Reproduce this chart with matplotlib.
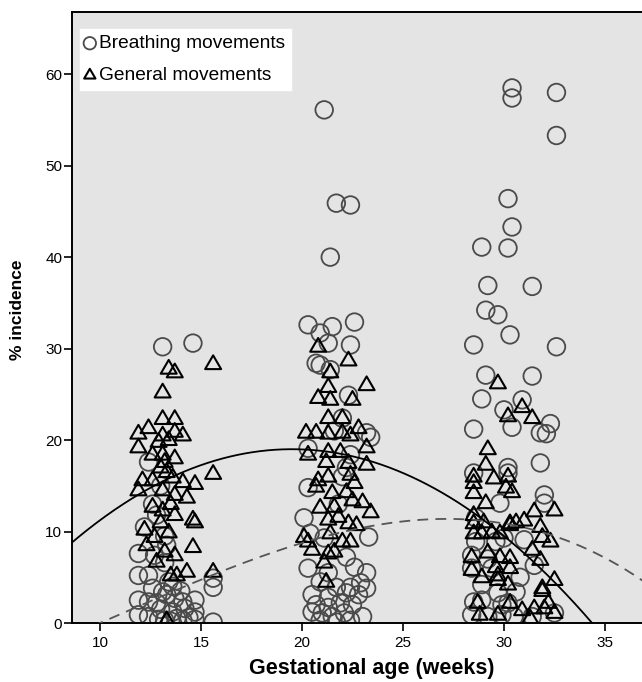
import numpy as np
import matplotlib
matplotlib.use("Agg")
import matplotlib.pyplot as plt
from matplotlib.path import Path

plt.rcParams['font.family'] = ['Liberation Sans', 'DejaVu Sans']

# ---------------- data ----------------
breathing_age = [
    # ~13 weeks
    13.1, 14.6, 12.4, 13.0, 12.6, 11.9, 12.7, 13.2, 11.9, 12.4, 13.1, 11.9, 12.4, 12.8,
    13.3, 13.7, 14.1, 14.7, 15.6, 15.6, 11.9, 12.4, 12.9, 13.2, 13.5, 13.8, 14.1, 14.4,
    14.7, 15.6, 14.7, 14.2, 13.0, 13.6, 12.6, 13.4, 12.2, 13.3, 13.6, 14.0, 13.2, 12.8,
    # ~21 weeks
    21.1, 21.7, 22.4, 21.4, 20.3, 21.5, 22.6, 20.9, 21.3, 22.4, 20.7, 20.9, 21.4, 22.3,
    22.0, 23.2, 23.4, 20.3, 22.4, 20.3, 22.0, 20.1, 20.4, 21.1, 23.3, 22.2, 20.3, 21.3,
    22.6, 23.2, 20.9, 21.7, 22.4, 22.9, 23.2, 20.5, 21.3, 22.2, 22.8, 20.7, 21.3, 21.9,
    22.5, 20.5, 21.0, 21.5, 22.1, 23.0, 20.9, 21.7, 22.4, 21.8, 22.2, 21.6,
    # ~30 weeks
    30.4, 30.4, 32.6, 32.6, 30.2, 30.4, 28.9, 30.2, 29.2, 31.4, 29.1, 29.7, 30.3,
    28.5, 32.6, 29.1, 31.4, 28.9, 30.9, 30.0, 30.4, 32.3, 31.8, 32.1, 28.5, 31.8,
    30.2, 30.2, 28.5, 32.0, 32.0, 29.8, 28.6, 29.6, 30.0, 31.0, 31.5, 28.4, 29.2,
    28.4, 29.4, 28.9, 29.7, 30.6, 28.5, 28.9, 29.9, 30.2, 28.4, 29.2, 29.9, 30.5,
    31.4, 32.5, 28.6, 30.8,
]
breathing_pct = [
    30.2, 30.6, 17.6, 15.0, 13.0, 7.6, 7.4, 6.6, 5.2, 5.2, 3.4, 2.5, 2.3, 2.2,
    3.1, 2.7, 2.3, 2.5, 3.9, 4.9, 0.9, 0.7, 0.4, 0.3, 0.2, 0.5, 0.3, 0.6,
    0.4, 0.1, 1.2, 1.6, 1.5, 1.2, 3.8, 4.5, 10.5, 8.5, 4.0, 3.5, 9.5, 11.8,
    56.1, 45.9, 45.7, 40.0, 32.6, 32.4, 32.9, 31.7, 30.6, 30.4, 28.4, 28.2, 27.7, 24.9,
    22.4, 20.8, 20.3, 19.1, 18.4, 14.8, 16.0, 11.5, 9.8, 9.3, 9.4, 7.2, 6.0, 5.5,
    6.1, 5.5, 4.5, 3.9, 3.9, 4.4, 3.8, 3.1, 2.8, 3.3, 3.1, 2.0, 1.7, 2.2,
    2.0, 1.2, 1.1, 0.7, 1.1, 0.7, 0.3, 0.1, 0.3, 13.0, 17.0, 21.0,
    58.5, 57.4, 58.0, 53.3, 46.4, 43.3, 41.1, 41.0, 36.9, 36.8, 34.2, 33.7, 31.5,
    30.4, 30.2, 27.1, 27.0, 24.5, 24.4, 23.3, 21.4, 21.8, 20.8, 20.7, 21.2, 17.5,
    17.0, 16.4, 16.4, 14.0, 13.1, 13.1, 8.9, 8.9, 9.3, 9.1, 6.3, 7.4, 7.0,
    6.0, 6.0, 4.2, 3.3, 3.4, 2.3, 2.5, 2.0, 2.2, 0.9, 0.7, 0.9, 0.7,
    0.7, 1.1, 11.5, 5.0,
]

general_age = [
    # ~13 weeks
    13.1, 13.1, 13.7, 11.9, 12.4, 13.1, 13.7, 14.1, 13.4, 11.9, 12.6, 13.1, 13.7, 15.6,
    12.1, 12.6, 13.6, 14.1, 14.7, 13.4, 13.7, 15.6, 11.9, 13.1, 13.7, 14.3, 12.6, 13.1,
    13.7, 14.6, 14.7, 12.2, 12.7, 13.4, 14.6, 12.3, 13.2, 13.7, 12.8, 13.5, 13.8, 14.3,
    15.6, 13.3, 13.0, 13.3, 13.5, 12.9, 13.2, 13.0,
    # ~21 weeks
    20.8, 22.3, 21.4, 23.2, 21.3, 20.8, 21.4, 22.5, 21.3, 22.0, 20.2, 20.7, 21.3, 22.0,
    22.4, 22.8, 23.2, 20.3, 21.3, 21.9, 22.3, 23.2, 21.2, 21.3, 20.8, 22.4, 22.6, 20.7,
    21.5, 22.2, 22.5, 23.0, 20.9, 21.6, 23.4, 21.3, 21.8, 22.3, 22.7, 21.4, 20.1, 20.3,
    20.5, 22.0, 22.4, 21.3, 21.6, 21.1, 21.2,
    # ~30 weeks
    29.7, 30.9, 30.2, 31.4, 29.2, 29.1, 28.5, 28.5, 28.5, 29.5, 30.2, 30.1, 30.4, 29.1,
    31.5, 32.5, 28.5, 28.5, 28.5, 29.0, 28.9, 29.4, 29.8, 30.3, 30.6, 31.8, 31.9, 32.3,
    31.4, 31.8, 28.4, 29.2, 29.8, 30.3, 29.6, 28.4, 28.9, 29.7, 30.3, 29.7, 30.2, 32.5,
    31.9, 31.9, 28.7, 30.3, 32.2, 32.5, 31.5, 30.9, 29.7, 28.8, 31.3, 32.0, 30.3, 31.0,
]
general_pct = [
    25.2, 22.3, 22.3, 20.7, 21.3, 20.5, 20.9, 20.5, 20.0, 19.2, 18.4, 18.4, 18.0, 16.3,
    15.6, 15.6, 15.9, 15.4, 15.2, 27.8, 27.4, 28.3, 14.5, 14.5, 14.0, 13.7, 12.7, 12.3,
    11.8, 11.3, 11.0, 10.2, 9.4, 9.9, 8.3, 8.5, 7.8, 7.4, 6.7, 5.2, 5.2, 5.6,
    5.6, 0.3, 17.0, 16.5, 13.0, 19.8, 17.6, 11.0,
    30.2, 28.7, 27.4, 26.0, 25.8, 24.6, 24.4, 24.4, 22.4, 22.4, 20.8, 20.8, 20.7, 20.8,
    20.5, 21.3, 19.2, 18.4, 18.7, 18.7, 17.5, 17.3, 17.6, 16.0, 15.6, 16.2, 15.3, 14.9,
    14.2, 14.3, 13.4, 13.2, 12.6, 12.7, 12.1, 11.3, 11.6, 10.9, 10.7, 9.8, 9.4, 8.9,
    8.0, 8.9, 8.9, 7.6, 7.8, 6.6, 4.5,
    26.2, 23.6, 22.6, 22.4, 19.0, 17.3, 16.0, 15.3, 14.2, 15.8, 16.0, 14.8, 14.3, 13.1,
    12.2, 12.3, 11.8, 10.9, 9.8, 11.0, 9.8, 9.9, 9.8, 10.7, 11.0, 10.5, 9.4, 8.9,
    8.0, 6.9, 7.2, 7.7, 7.2, 7.1, 6.1, 5.8, 5.0, 5.2, 6.0, 4.7, 4.2, 4.7,
    3.8, 3.5, 2.2, 2.2, 2.2, 1.1, 1.6, 1.4, 0.9, 0.9, 0.5, 1.6, 10.9, 11.2,
]

# fitted curves (polynomial coefficients, highest power first)
general_fit = [-0.086, 3.354, -13.70]                       # in x
breathing_fit = [-0.0012469, -0.040585, 0.52122, 9.9443]    # in (x - 22)
breathing_center = 22.0

xticks = [10, 15, 20, 25, 30, 35]
yticks = [0, 10, 20, 30, 40, 50, 60]

# ---------------- plot ----------------
fig = plt.figure(figsize=(6.42, 6.82), dpi=100)
ax = fig.add_axes([0.1121, 0.0865, 0.8978, 0.8959])
ax.set_facecolor('#e4e4e4')

tri = Path([(-1.0, -0.62), (1.0, -0.62), (0.0, 1.1), (-1.0, -0.62)],
           [Path.MOVETO, Path.LINETO, Path.LINETO, Path.CLOSEPOLY])

ax.scatter(breathing_age, breathing_pct, s=160, marker='o', facecolors='none',
           edgecolors='#4a4a4a', linewidths=1.3, zorder=2, label='Breathing movements')
ax.scatter(general_age, general_pct, s=160, marker=tri, facecolors='none',
           edgecolors='black', linewidths=1.5, zorder=3, label='General movements')

xs = np.linspace(8.0, 38.0, 400)
ax.plot(xs, np.polyval(general_fit, xs), color='black', lw=1.3, zorder=4)
ax.plot(xs, np.polyval(breathing_fit, xs - breathing_center), color='#555555',
        lw=1.3, ls=(0, (6, 4)), zorder=4)

ax.set_xlim(8.61, 37.15)
ax.set_ylim(0, 66.8)
ax.set_xticks(xticks)
ax.set_yticks(yticks)
ax.tick_params(direction='out', length=6, width=1.2, labelsize=11, colors='black')
ax.tick_params(axis='y', pad=1)
for s in ax.spines.values():
    s.set_linewidth(1.4)
    s.set_color('black')

ax.set_xlabel('Gestational age (weeks)', fontsize=15.5, fontweight='bold')
ax.xaxis.set_label_coords(0.5207, -0.058)
ax.set_ylabel('% incidence', fontsize=12.5, fontweight='bold')
ax.yaxis.set_label_coords(-0.082, 0.512)

leg = ax.legend(loc='upper left', bbox_to_anchor=(0.0135, 0.972), frameon=True,
                fancybox=False, framealpha=1, edgecolor='white', facecolor='white',
                fontsize=13.8, handletextpad=0.25, handlelength=0.45,
                borderpad=0.3, labelspacing=0.75, borderaxespad=0)
for h in leg.legend_handles:
    h.set_sizes([80])

fig.savefig('out.png', dpi=100)
